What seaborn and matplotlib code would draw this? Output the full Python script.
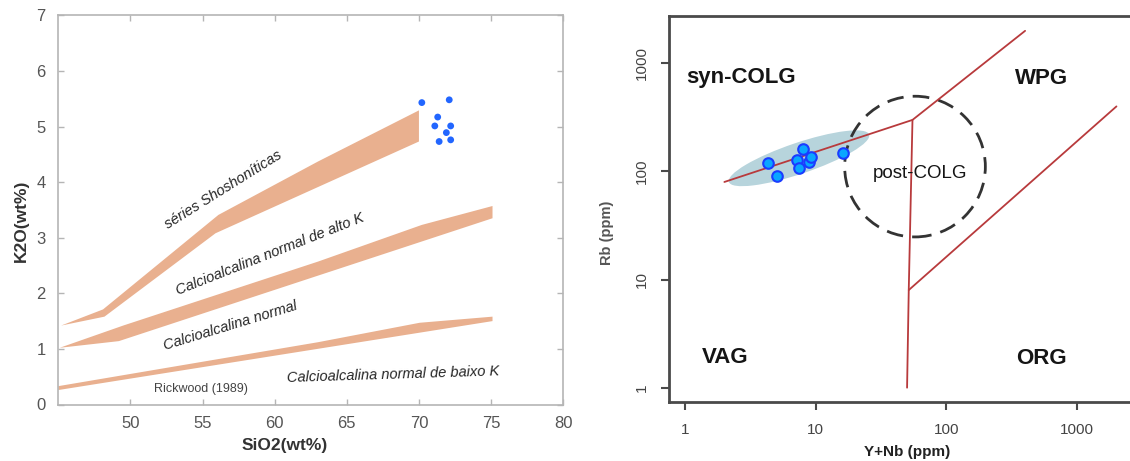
import numpy as np
import pandas as pd
import matplotlib
matplotlib.use("Agg")
import matplotlib.pyplot as plt
import seaborn as sns
from matplotlib.patches import Ellipse
from matplotlib.transforms import ScaledTranslation

# ---- left panel: K2O vs SiO2 (Rickwood 1989 fields) ----
sio2 = [70.2, 72.1, 71.3, 71.1, 72.2, 71.9, 71.4, 72.2]
k2o = [5.43, 5.48, 5.17, 5.01, 5.01, 4.89, 4.73, 4.76]

shosh_x = [45.2, 48.1, 56.1, 63.0, 70.0, 70.0, 55.9, 48.2]
shosh_y = [1.42, 1.71, 3.41, 4.37, 5.29, 4.73, 3.08, 1.58]
altok_x = [45.1, 49.5, 63.0, 70.2, 75.1, 75.1, 49.2]
altok_y = [1.02, 1.42, 2.57, 3.23, 3.57, 3.35, 1.14]
baixok_x = [45.0, 63.0, 70.05, 75.1, 75.1, 45.0]
baixok_y = [0.33, 1.12, 1.47, 1.58, 1.50, 0.26]

# ---- right panel: Rb vs Y+Nb (Pearce 1984) ----
ynb = [4.34, 5.03, 7.95, 7.16, 8.93, 7.45, 9.2, 16.3]
rb = [119, 91, 160, 128, 123, 107, 137, 147]

line1_x, line1_y = [2, 55, 400], [80, 300, 2000]
line2_x, line2_y = [55, 51.5, 50], [300, 8, 1]
line3_x, line3_y = [51.5, 2000], [8, 400]

field_labels = ["syn-COLG", "WPG", "VAG", "ORG"]
field_x = [2.68, 535, 2.02, 535]
field_y = [748, 718, 1.90, 1.88]

sns.set_style("white")
plt.rcParams["font.family"] = ["Liberation Sans", "DejaVu Sans"]

fig = plt.figure(figsize=(11.3, 4.61), dpi=100)
W, H = 1130, 461

# ------------------------------
# left panel
# ------------------------------
ax1 = fig.add_axes([58.3 / W, 1 - 404.5 / H, (563.2 - 58.3) / W, (404.5 - 15.3) / H])
band = "#e9b08f"
for bx, by in [(shosh_x, shosh_y), (altok_x, altok_y), (baixok_x, baixok_y)]:
    ax1.fill(bx, by, color=band, lw=0)

df1 = pd.DataFrame({"SiO2": sio2, "K2O": k2o})
sns.scatterplot(data=df1, x="SiO2", y="K2O", ax=ax1, color="#2266ff",
                s=24, edgecolor="none", zorder=3)

ax1.set_xlim(45, 80)
ax1.set_ylim(0, 7)
ax1.set_xticks([50, 55, 60, 65, 70, 75, 80])
ax1.set_yticks(range(8))
ax1.set_xlabel("")
ax1.set_ylabel("")
for s in ax1.spines.values():
    s.set_color("#b5b5b5")
    s.set_linewidth(1.2)
ax1.tick_params(direction="in", length=4, width=1, color="#b5b5b5",
                bottom=True, left=True, top=True, right=True,
                labelsize=12, labelcolor="#555555")
ax1.tick_params(axis="x", pad=8)
ax1.tick_params(axis="y", pad=9)

txt = dict(color="#262626", fontsize=10.5, style="italic", ha="center", va="center")
ax1.text(56.47, 3.86, "séries Shoshoníticas", rotation=32, **txt)
ax1.text(59.66, 2.71, "Calcioalcalina normal de alto K", rotation=21.6, **txt)
ax1.text(56.96, 1.42, "Calcioalcalina normal", rotation=17, **txt)
ax1.text(68.2, 0.54, "Calcioalcalina normal de baixo K", rotation=1.8, **txt)
ax1.text(54.87, 0.28, "Rickwood (1989)", color="#444444", fontsize=9,
         ha="center", va="center")

fig.text(285 / W, 1 - 445 / H, "SiO2(wt%)", fontsize=12.5, fontweight="bold",
         color="#333333", ha="center", va="center")
fig.text(21 / W, 1 - 221 / H, "K2O(wt%)", fontsize=12.5, fontweight="bold",
         color="#333333", ha="center", va="center", rotation=90)

# ------------------------------
# right panel
# ------------------------------
ax2 = fig.add_axes([669.3 / W, 1 - 401.7 / H, (1135 - 669.3) / W, (401.7 - 16) / H])
ax2.set_xscale("log")
ax2.set_yscale("log")
ax2.set_xlim(0.758, 2773)
ax2.set_ylim(0.742, 2744)

# shaded field around the samples and post-COLG circle (sizes in inches)
ell_tr = fig.dpi_scale_trans + ScaledTranslation(7.45, 132.5, ax2.transData)
ax2.add_patch(Ellipse((0, 0), 1.48, 0.31, angle=18.7, transform=ell_tr,
                      facecolor="#b7d4dc", edgecolor="none", zorder=1))
circ_tr = fig.dpi_scale_trans + ScaledTranslation(57.5, 111, ax2.transData)
ax2.add_patch(Ellipse((0, 0), 1.407, 1.407, transform=circ_tr, fill=False,
                      edgecolor="#333333", lw=2, ls=(0, (6, 3.3)), zorder=2))

red = "#b83a3c"
for lx, ly in [(line1_x, line1_y), (line2_x, line2_y), (line3_x, line3_y)]:
    ax2.plot(lx, ly, color=red, lw=1.3, zorder=3)

df2 = pd.DataFrame({"YNb": ynb, "Rb": rb})
sns.scatterplot(data=df2, x="YNb", y="Rb", ax=ax2, color="#0aa6ff",
                edgecolor="#1a3cff", linewidth=1.5, s=58, zorder=4)

for lab, fx, fy in zip(field_labels, field_x, field_y):
    ax2.text(fx, fy, lab, fontsize=16, fontweight="bold", color="#151515",
             ha="center", va="center")
ax2.text(62.7, 96.3, "post-COLG", fontsize=13.5, color="#151515",
         ha="center", va="center", zorder=5)

ax2.set_xticks([1, 10, 100, 1000])
ax2.set_xticklabels(["1", "10", "100", "1000"])
ax2.set_yticks([1, 10, 100, 1000])
ax2.set_yticklabels(["1", "10", "100", "1000"], rotation=90, va="center")
ax2.minorticks_off()
ax2.set_xlabel("")
ax2.set_ylabel("")
for name, s in ax2.spines.items():
    s.set_color("#4a4a4a")
    s.set_linewidth(2)
ax2.spines["right"].set_visible(False)
ax2.tick_params(direction="out", length=6, width=1.5, color="#4a4a4a",
                bottom=True, left=True, labelsize=11, labelcolor="#444444")
ax2.tick_params(axis="x", pad=9)
ax2.tick_params(axis="y", pad=9)

fig.text(907 / W, 1 - 452 / H, "Y+Nb (ppm)", fontsize=11, fontweight="bold",
         color="#222222", ha="center", va="center")
fig.text(607 / W, 1 - 233 / H, "Rb (ppm)", fontsize=10.5, fontweight="bold",
         color="#555555", ha="center", va="center", rotation=90)

fig.savefig("out.png", dpi=100)
